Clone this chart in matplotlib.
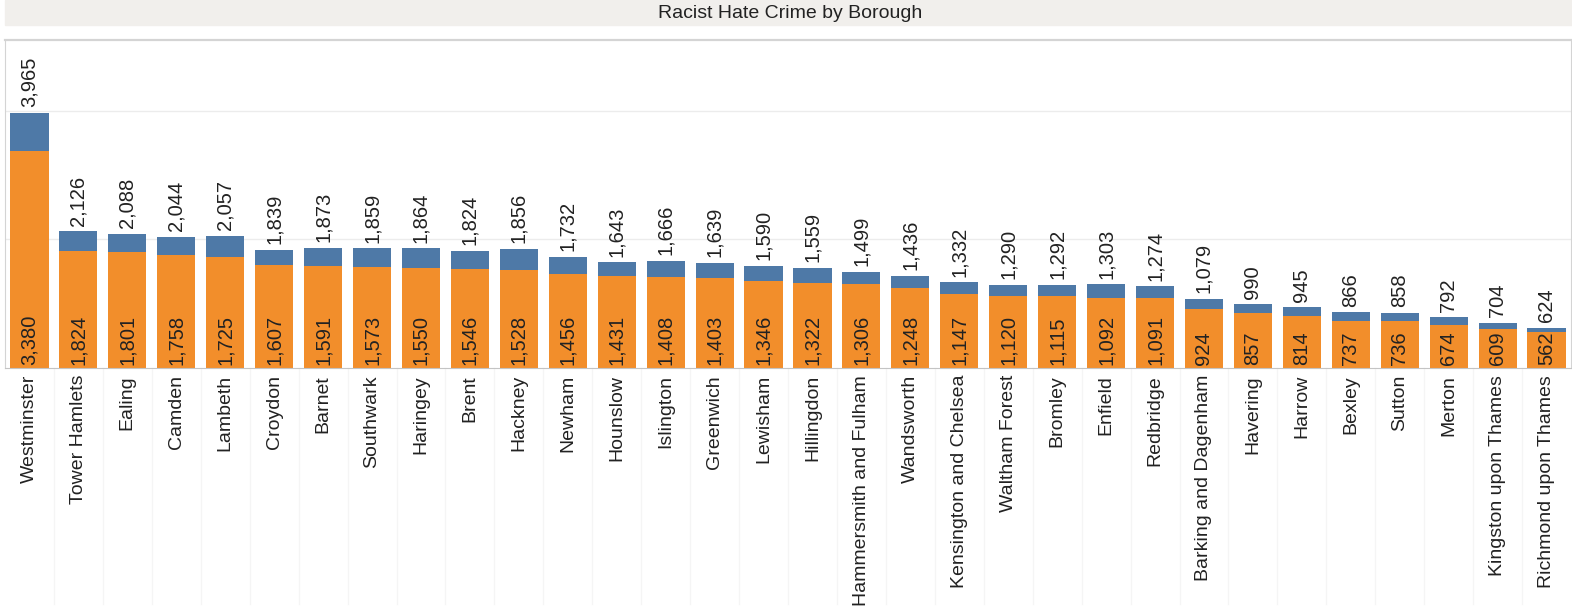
import matplotlib
matplotlib.use("Agg")
import matplotlib.pyplot as plt
from matplotlib.patches import Rectangle
from matplotlib.transforms import blended_transform_factory
import numpy as np

plt.rcParams['font.family'] = ['Liberation Sans', 'DejaVu Sans']

# Data
boroughs = ['Westminster', 'Tower Hamlets', 'Ealing', 'Camden', 'Lambeth', 'Croydon',
            'Barnet', 'Southwark', 'Haringey', 'Brent', 'Hackney', 'Newham', 'Hounslow',
            'Islington', 'Greenwich', 'Lewisham', 'Hillingdon', 'Hammersmith and Fulham',
            'Wandsworth', 'Kensington and Chelsea', 'Waltham Forest', 'Bromley', 'Enfield',
            'Redbridge', 'Barking and Dagenham', 'Havering', 'Harrow', 'Bexley', 'Sutton',
            'Merton', 'Kingston upon Thames', 'Richmond upon Thames']
racist = [3380, 1824, 1801, 1758, 1725, 1607, 1591, 1573, 1550, 1546, 1528, 1456, 1431,
          1408, 1403, 1346, 1322, 1306, 1248, 1147, 1120, 1115, 1092, 1091, 924, 857,
          814, 737, 736, 674, 609, 562]
totals = [3965, 2126, 2088, 2044, 2057, 1839, 1873, 1859, 1864, 1824, 1856, 1732, 1643,
          1666, 1639, 1590, 1559, 1499, 1436, 1332, 1290, 1292, 1303, 1274, 1079, 990,
          945, 866, 858, 792, 704, 624]

orange = '#F28E2B'
blue = '#4E79A7'
txt = '#222222'

W, H = 1572, 613
fig = plt.figure(figsize=(W / 100, H / 100), dpi=100)

# title band
fig.patches.append(Rectangle((5 / W, 1 - 25 / H), 1 - 5 / W, 25 / H,
                             transform=fig.transFigure, color='#f1efec', zorder=0))
fig.text(790 / W, 1 - 13 / H, 'Racist Hate Crime by Borough', ha='center', va='center',
         fontsize=14, color=txt)

ax = fig.add_axes([5 / W, 1 - 368 / H, 1566 / W, 328 / H])
x = np.arange(len(boroughs))
rest = np.array(totals) - np.array(racist)

ax.bar(x, racist, width=0.78, color=orange, zorder=2)
ax.bar(x, rest, bottom=racist, width=0.78, color=blue, zorder=2)

for xi, r, t in zip(x, racist, totals):
    ax.annotate(f'{r:,}', (xi, 0), xytext=(0, 2), textcoords='offset points',
                rotation=90, ha='center', va='bottom', fontsize=14.5, color=txt, zorder=3)
    ax.annotate(f'{t:,}', (xi, t), xytext=(0, 4), textcoords='offset points',
                rotation=90, ha='center', va='bottom', fontsize=14.5, color=txt, zorder=3)

for g in [2000, 4000]:
    ax.axhline(g, color='#ececec', lw=1, zorder=1)

ax.set_xlim(-0.5, len(boroughs) - 0.5)
ax.set_ylim(0, 5100)
ax.set_yticks([])
ax.set_xticks(x)
ax.set_xticklabels(boroughs, rotation=90, fontsize=14, color=txt)
ax.tick_params(axis='x', length=0, pad=5)

for s in ['left', 'right', 'top']:
    ax.spines[s].set_color('#d4d4d4')
ax.spines['top'].set_linewidth(1.6)
ax.spines['bottom'].set_color('#c4c4c4')

# faint separators between labels
trans = blended_transform_factory(ax.transData, ax.transAxes)
for xi in x[:-1]:
    ax.plot([xi + 0.5, xi + 0.5], [0, -0.72], transform=trans, color='#f5f5f5',
            lw=1, clip_on=False, zorder=0)

fig.savefig('out.png', dpi=100)
